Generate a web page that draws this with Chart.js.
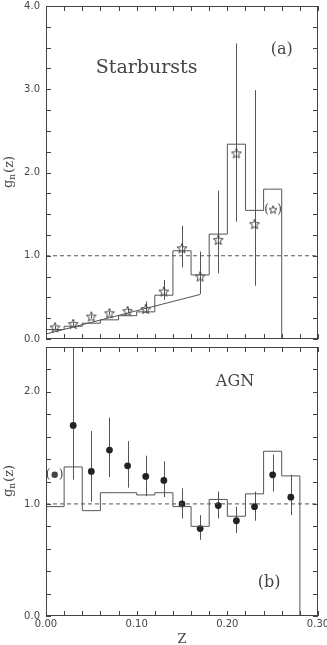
<!DOCTYPE html>
<html>
<head>
<meta charset="utf-8">
<script src="https://cdn.jsdelivr.net/npm/chart.js@4/dist/chart.umd.min.js"></script>
<style>
  html, body { margin: 0; padding: 0; background: #fff; }
  #wrap { position: relative; width: 327px; height: 645px; overflow: hidden; }
  #top { position: absolute; left: 0; top: 0; }
  #bot { position: absolute; left: 0; top: 343px; }
</style>
</head>
<body>
<div id="wrap">
  <canvas id="top" width="327" height="345"></canvas>
  <canvas id="bot" width="327" height="302"></canvas>
</div>
<script>
// bin edges shared by both histograms
const binEdges = [0.00, 0.02, 0.04, 0.06, 0.08, 0.10, 0.12, 0.14, 0.16, 0.18, 0.20, 0.22, 0.24, 0.26, 0.28];

// (a) Starbursts
const sbHist = [0.114, 0.153, 0.19, 0.23, 0.28, 0.326, 0.526, 1.06, 0.77, 1.26, 2.34, 1.545, 1.80];
const sbZ  = [0.01, 0.03, 0.05, 0.07, 0.09, 0.11, 0.13, 0.15, 0.17, 0.19, 0.21, 0.23];
const sbG  = [0.14, 0.18, 0.27, 0.31, 0.335, 0.36, 0.57, 1.09, 0.75, 1.19, 2.23, 1.38];
const sbLo = [0.12, 0.16, 0.25, 0.29, 0.31, 0.31, 0.47, 0.86, 0.54, 0.79, 1.41, 0.64];
const sbHi = [0.16, 0.20, 0.29, 0.33, 0.37, 0.45, 0.71, 1.36, 1.05, 1.78, 3.55, 2.99];
const sbFitZ = [0.00, 0.17];
const sbFitG = [0.06, 0.535];

// (b) AGN
const agnHist = [0.976, 1.33, 0.94, 1.10, 1.10, 1.08, 1.10, 0.976, 0.80, 1.04, 0.89, 1.09, 1.47, 1.25];
const agnZ  = [0.03, 0.05, 0.07, 0.09, 0.11, 0.13, 0.15, 0.17, 0.19, 0.21, 0.23, 0.25, 0.27];
const agnG  = [1.70, 1.29, 1.48, 1.34, 1.245, 1.21, 1.00, 0.78, 0.985, 0.85, 0.975, 1.26, 1.06];
const agnLo = [1.216, 1.02, 1.24, 1.145, 1.07, 1.06, 0.87, 0.68, 0.87, 0.74, 0.85, 1.11, 0.90];
const agnHi = [2.45, 1.65, 1.77, 1.56, 1.43, 1.38, 1.14, 0.90, 1.11, 0.975, 1.11, 1.44, 1.26];

const INK = '#444';

// outlined five-point star, used as point style and in the bracketed label
function makeStar(size, outer, inner) {
  const c = document.createElement('canvas');
  c.width = size; c.height = size;
  const g = c.getContext('2d');
  g.strokeStyle = '#333';
  g.lineWidth = 0.9;
  g.beginPath();
  for (let i = 0; i < 10; i++) {
    const r = i % 2 ? inner : outer;
    const a = -Math.PI / 2 + i * Math.PI / 5;
    const px = size / 2 + r * Math.cos(a), py = size / 2 + 0.4 + r * Math.sin(a);
    if (i) g.lineTo(px, py); else g.moveTo(px, py);
  }
  g.closePath();
  g.stroke();
  return c;
}
const starImg = makeStar(12, 5.2, 2.2);
const smallStar = makeStar(10, 4.2, 1.8);

function histPoints(hist) {
  const pts = hist.map((h, i) => ({ x: binEdges[i], y: h }));
  const n = hist.length;
  pts.push({ x: binEdges[n], y: hist[n - 1] });
  pts.push({ x: binEdges[n], y: 0 });
  return pts;
}

function zip(xs, ys) {
  return xs.map((v, i) => ({ x: v, y: ys[i] }));
}

const isMultiple = (v, step) => Math.abs(v / step - Math.round(v / step)) < 1e-6;

/**
 * Frame with inward ticks on all four sides
 */
const framePlugin = {
  id: 'frame',
  afterDatasetsDraw(chart) {
    const { ctx, chartArea: a, scales: { x, y } } = chart;
    ctx.save();
    ctx.strokeStyle = INK;
    ctx.lineWidth = 1;
    ctx.strokeRect(a.left + 0.5, a.top + 0.5, a.right - a.left - 1, a.bottom - a.top - 1);
    ctx.beginPath();
    x.ticks.forEach(t => {
      const px = Math.round(x.getPixelForValue(t.value)) + 0.5;
      ctx.moveTo(px, a.top); ctx.lineTo(px, a.top + 5);
      ctx.moveTo(px, a.bottom); ctx.lineTo(px, a.bottom - 5);
    });
    y.ticks.forEach(t => {
      const py = Math.round(y.getPixelForValue(t.value)) + 0.5;
      ctx.moveTo(a.left, py); ctx.lineTo(a.left + 5, py);
      ctx.moveTo(a.right, py); ctx.lineTo(a.right - 5, py);
    });
    ctx.stroke();
    ctx.restore();
  }
};

/**
 * Vertical error bars, drawn under the markers
 */
const errPlugin = {
  id: 'errbars',
  beforeDatasetsDraw(chart, args, opts) {
    const { ctx, chartArea: a, scales: { x, y } } = chart;
    ctx.save();
    ctx.beginPath();
    ctx.rect(a.left, a.top, a.right - a.left, a.bottom - a.top);
    ctx.clip();
    ctx.strokeStyle = '#555';
    ctx.lineWidth = 1;
    ctx.beginPath();
    opts.z.forEach((z, i) => {
      const px = Math.round(x.getPixelForValue(z)) + 0.5;
      ctx.moveTo(px, y.getPixelForValue(opts.lo[i]));
      ctx.lineTo(px, y.getPixelForValue(opts.hi[i]));
    });
    ctx.stroke();
    ctx.restore();
  }
};

/**
 * Panel texts, y title and bracketed markers
 */
const textPlugin = {
  id: 'texts',
  afterDraw(chart, args, opts) {
    const { ctx, chartArea: a, scales: { x, y } } = chart;
    ctx.save();
    ctx.fillStyle = INK;
    ctx.textBaseline = 'middle';
    ctx.textAlign = 'center';
    (opts.items || []).forEach(it => {
      const px = x.getPixelForValue(it.x), py = y.getPixelForValue(it.y);
      if (it.marker) {
        ctx.font = '12px "DejaVu Serif"';
        ctx.fillText('(', px - 6.5, py);
        ctx.fillText(')', px + 6.5, py);
        if (it.marker === 'star') {
          ctx.drawImage(smallStar, px - 5, py - 5.4);
        } else {
          ctx.beginPath();
          ctx.arc(px, py, 3.2, 0, Math.PI * 2);
          ctx.fill();
        }
      } else {
        ctx.font = it.font;
        ctx.fillText(it.text, px, py);
      }
    });
    // y title g_n(z)
    const cy = (a.top + a.bottom) / 2;
    ctx.translate(10, cy);
    ctx.rotate(-Math.PI / 2);
    ctx.textAlign = 'left';
    ctx.font = '13px "DejaVu Serif"';
    const wg = ctx.measureText('g').width;
    ctx.font = '9px "DejaVu Serif"';
    const wn = ctx.measureText('n').width;
    ctx.font = '13px "DejaVu Serif"';
    const wz = ctx.measureText('(z)').width;
    const sx = -(wg + wn + wz) / 2;
    ctx.fillText('g', sx, -1);
    ctx.font = '9px "DejaVu Serif"';
    ctx.fillText('n', sx + wg, 3);
    ctx.font = '13px "DejaVu Serif"';
    ctx.fillText('(z)', sx + wg + wn + 1, 0);
    ctx.restore();
    if (opts.xTitle) {
      ctx.save();
      ctx.fillStyle = INK;
      ctx.font = '13px "DejaVu Serif"';
      ctx.textAlign = 'center';
      ctx.textBaseline = 'middle';
      ctx.fillText(opts.xTitle, (a.left + a.right) / 2, opts.xTitleY);
      ctx.restore();
    }
  }
};

function makeOptions(yMax, yStep, showXLabels, xAxisHeight, extra) {
  return {
    responsive: false,
    devicePixelRatio: 1,
    animation: false,
    events: [],
    layout: { padding: { top: extra.padTop, right: 9, left: 0, bottom: 0 } },
    plugins: {
      legend: { display: false },
      tooltip: { enabled: false },
      errbars: extra.err,
      texts: extra.texts,
    },
    scales: {
      x: {
        type: 'linear',
        min: 0,
        max: 0.30,
        grid: { display: false, drawTicks: false },
        border: { display: false },
        ticks: {
          display: showXLabels,
          stepSize: 0.02,
          autoSkip: false,
          maxRotation: 0,
          padding: 2,
          color: INK,
          font: { family: '"DejaVu Sans"', size: 10 },
          callback: (v) => isMultiple(v, 0.1) ? v.toFixed(2) : '',
        },
        afterFit: (s) => { s.height = xAxisHeight; s.paddingLeft = 0; s.paddingRight = 0; },
      },
      y: {
        type: 'linear',
        min: 0,
        max: yMax,
        grid: { display: false, drawTicks: false },
        border: { display: false },
        ticks: {
          stepSize: yStep,
          autoSkip: false,
          padding: 6,
          color: INK,
          font: { family: '"DejaVu Sans"', size: 10 },
          callback: (v) => isMultiple(v, 1) ? v.toFixed(1) : '',
        },
        afterFit: (s) => { s.width = 46; s.paddingTop = 0; s.paddingBottom = 0; },
      },
    },
  };
}

const lineStyle = { showLine: true, pointRadius: 0, borderColor: '#555', borderWidth: 1, fill: false };

new Chart(document.getElementById('top'), {
  type: 'scatter',
  data: {
    datasets: [
      { ...lineStyle, data: histPoints(sbHist), stepped: true },
      { ...lineStyle, data: zip(sbFitZ, sbFitG) },
      { ...lineStyle, data: [{ x: 0, y: 1 }, { x: 0.30, y: 1 }], borderDash: [4, 3] },
      { data: zip(sbZ, sbG), pointStyle: starImg, pointRadius: 5 },
    ],
  },
  options: makeOptions(4.0, 0.25, false, 2, {
    padTop: 3,
    err: { z: sbZ, lo: sbLo, hi: sbHi },
    texts: {
      items: [
        { text: 'Starbursts', x: 0.111, y: 3.25, font: '19px "DejaVu Serif"' },
        { text: '(a)', x: 0.260, y: 3.47, font: '16px "DejaVu Serif"' },
        { marker: 'star', x: 0.2505, y: 1.55 },
      ],
    },
  }),
  plugins: [framePlugin, errPlugin, textPlugin],
});

new Chart(document.getElementById('bot'), {
  type: 'scatter',
  data: {
    datasets: [
      { ...lineStyle, data: histPoints(agnHist), stepped: true },
      { ...lineStyle, data: [{ x: 0, y: 1 }, { x: 0.30, y: 1 }], borderDash: [4, 3] },
      { data: zip(agnZ, agnG), pointStyle: 'circle', pointRadius: 3.4, backgroundColor: '#222', borderWidth: 0 },
    ],
  },
  options: makeOptions(2.4, 0.2, true, 29, {
    padTop: 0,
    err: { z: agnZ, lo: agnLo, hi: agnHi },
    texts: {
      items: [
        { text: 'AGN', x: 0.2085, y: 2.09, font: '16px "DejaVu Serif"' },
        { text: '(b)', x: 0.246, y: 0.30, font: '16px "DejaVu Serif"' },
        { marker: 'dot', x: 0.0096, y: 1.26 },
      ],
      xTitle: 'Z',
      xTitleY: 297,
    },
  }),
  plugins: [framePlugin, errPlugin, textPlugin],
});
</script>
</body>
</html>
